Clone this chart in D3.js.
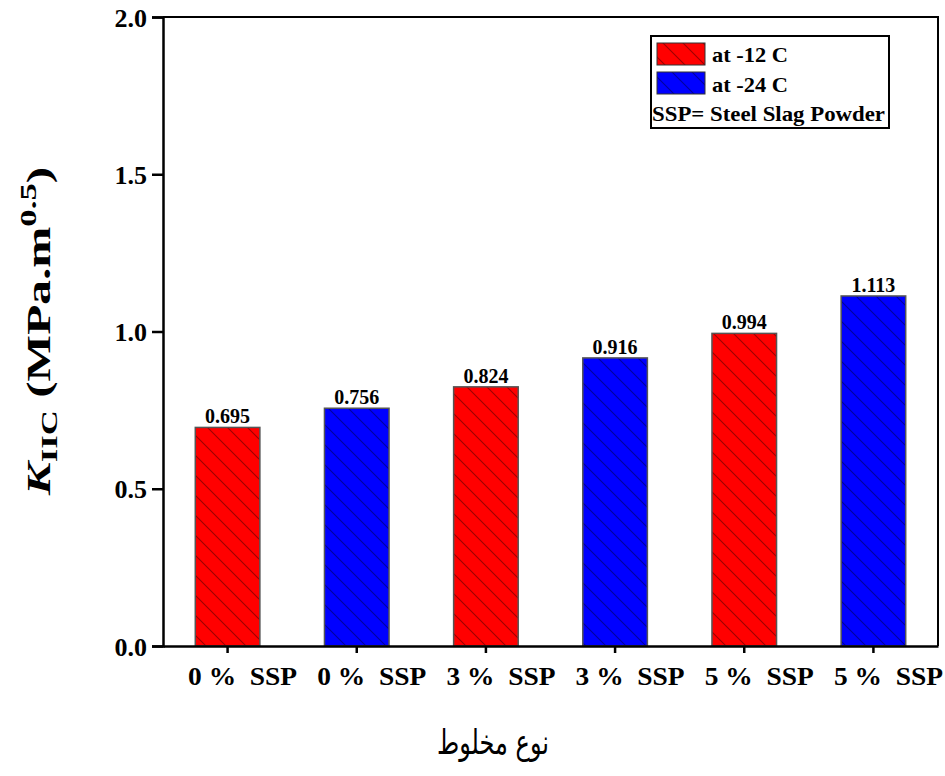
<!DOCTYPE html>
<html><head><meta charset="utf-8">
<script src="https://cdn.jsdelivr.net/npm/d3@7/dist/d3.min.js"></script>
<style>body{margin:0;background:#fff}</style></head>
<body><svg id="c" width="945" height="776"></svg>
<script>
const categories = ["0 %  SSP","0 %  SSP","3 %  SSP","3 %  SSP","5 %  SSP","5 %  SSP"];
const values = [0.695, 0.756, 0.824, 0.916, 0.994, 1.113];
const groups = ["at -12 C","at -24 C","at -12 C","at -24 C","at -12 C","at -24 C"];
const seriesNames = ["at -12 C","at -24 C"];
const seriesColors = ["#ff0000","#0000ff"];
const yTicks = [0.0,0.5,1.0,1.5,2.0];

const svg = d3.select("#c");
const L=163,R=938,T=17,B=646;
const x = d3.scaleBand().domain(d3.range(categories.length)).range([L,R]).paddingInner(0.5).paddingOuter(0.25);
const y = d3.scaleLinear().domain([0,2]).range([B,T]);
const serif = "'Liberation Serif','Times New Roman',serif";

function fitWidth(sel, w){
  sel.each(function(){ this.setAttribute("textLength", w); this.setAttribute("lengthAdjust","spacingAndGlyphs"); });
}

const defs = svg.append("defs");
seriesNames.forEach((s,i)=>{
  const p = defs.append("pattern").attr("id","h"+i).attr("patternUnits","userSpaceOnUse")
    .attr("width",20).attr("height",20);
  p.append("rect").attr("width",20).attr("height",20).attr("fill",seriesColors[i]);
  p.append("path").attr("d","M-5,-5 L25,25 M-25,-5 L5,25 M15,-5 L45,25")
   .attr("stroke","#000").attr("stroke-opacity",0.38).attr("stroke-width",1.1);
});

// frame (top/right)
svg.append("path").attr("d",`M${L},${T} H${R} V${B}`).attr("fill","none").attr("stroke","#000").attr("stroke-width",2);

// bars
svg.selectAll("rect.bar").data(values).join("rect").attr("class","bar")
  .attr("x",(d,i)=>x(i)).attr("width",x.bandwidth())
  .attr("y",d=>y(d)).attr("height",d=>y(0)-y(d))
  .attr("fill",(d,i)=>`url(#h${seriesNames.indexOf(groups[i])})`)
  .attr("stroke","#555").attr("stroke-width",1.5);

svg.selectAll("text.val").data(values).join("text").attr("class","val")
  .attr("x",(d,i)=>x(i)+x.bandwidth()/2).attr("y",d=>y(d)-4)
  .attr("text-anchor","middle").attr("font-family",serif).attr("font-weight","bold")
  .attr("font-size",20).text(d=>d.toFixed(3));

// y axis
const ya = svg.append("g").attr("transform",`translate(${L},0)`)
  .call(d3.axisLeft(y).tickValues(yTicks).tickFormat(d3.format(".1f")).tickSize(11).tickPadding(5));
ya.select(".domain").attr("stroke-width",2.5);
ya.selectAll(".tick line").attr("stroke-width",2.5);
ya.selectAll("text").attr("font-family",serif).attr("font-weight","bold").attr("font-size",26).attr("fill","#000").attr("dy","0.35em");

// x axis
const xa = svg.append("g").attr("transform",`translate(0,${B})`)
  .call(d3.axisBottom(x).tickFormat(i=>categories[i]).tickSize(7).tickSizeOuter(0).tickPadding(14));
xa.select(".domain").attr("stroke-width",2.5);
xa.selectAll(".tick line").attr("stroke-width",2.5);
xa.selectAll("text").attr("font-family",serif).attr("font-weight","bold").attr("font-size",25).attr("fill","#000")
  .attr("x",15).attr("xml:space","preserve").call(fitWidth,109);

// y title (stretched along its reading direction to match the reference)
const ytg = svg.append("g");
const yt = ytg.append("text").attr("text-anchor","middle").attr("font-family",serif).attr("font-weight","bold").attr("font-size",34);
yt.append("tspan").attr("font-style","italic").text("K");
yt.append("tspan").attr("font-size",24).attr("dy",7).text("IIC");
yt.append("tspan").attr("dy",-7).text(" (MPa.m");
yt.append("tspan").attr("font-size",24).attr("dy",-14).text("0.5");
yt.append("tspan").attr("dy",14).text(")");
const ylen = yt.node().getBBox().width;
ytg.attr("transform",`translate(50,331) rotate(-90) scale(${330/ylen},1)`);

// x title
svg.append("text").attr("x",493).attr("y",754).attr("text-anchor","middle")
  .attr("font-family","'DejaVu Sans',sans-serif").attr("font-size",34).attr("direction","rtl")
  .text("نوع مخلوط").call(fitWidth,112);

// legend
const lg = svg.append("g");
lg.append("rect").attr("x",651).attr("y",36).attr("width",238).attr("height",92)
  .attr("fill","#fff").attr("stroke","#000").attr("stroke-width",2);
seriesNames.forEach((s,i)=>{
  lg.append("rect").attr("x",657).attr("y",43+i*29).attr("width",48).attr("height",22)
    .attr("fill",`url(#h${i})`).attr("stroke","#333").attr("stroke-width",1);
  lg.append("text").attr("x",712).attr("y",62+i*30).attr("font-family",serif).attr("font-weight","bold")
    .attr("font-size",21).text(s).call(fitWidth,76);
});
lg.append("text").attr("x",652).attr("y",121).attr("font-family",serif).attr("font-weight","bold")
  .attr("font-size",22).text("SSP= Steel Slag Powder").call(fitWidth,233);
</script></body></html>
